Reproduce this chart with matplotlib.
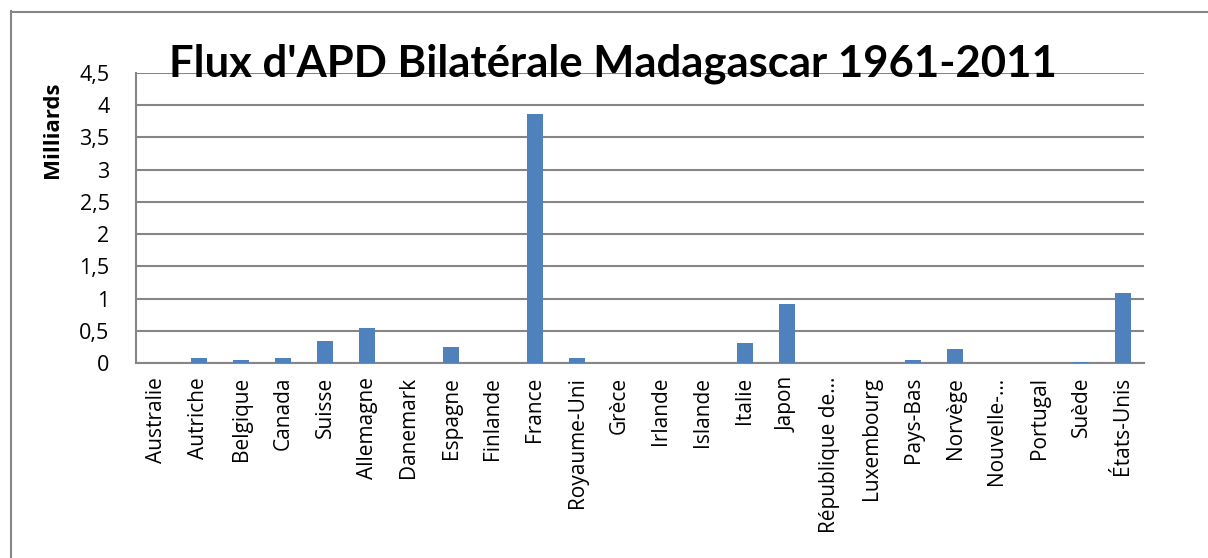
import matplotlib
matplotlib.use("Agg")
import matplotlib.pyplot as plt
from matplotlib.lines import Line2D

pays = ["Australie", "Autriche", "Belgique", "Canada", "Suisse", "Allemagne",
        "Danemark", "Espagne", "Finlande", "France", "Royaume-Uni", "Grèce",
        "Irlande", "Islande", "Italie", "Japon", "République de…",
        "Luxembourg", "Pays-Bas", "Norvège", "Nouvelle-…", "Portugal",
        "Suède", "États-Unis"]
apd = [0.0, 0.08, 0.05, 0.07, 0.34, 0.55, 0.0, 0.25, 0.0, 3.87, 0.07, 0.0,
       0.0, 0.0, 0.31, 0.91, 0.0, 0.0, 0.04, 0.22, 0.0, 0.0, 0.015, 1.09]
yticks = [0, 0.5, 1, 1.5, 2, 2.5, 3, 3.5, 4, 4.5]
ylabels = ["0", "0,5", "1", "1,5", "2", "2,5", "3", "3,5", "4", "4,5"]

W, H = 1208, 558
fig = plt.figure(figsize=(W / 100, H / 100), dpi=100)
ax = fig.add_axes([136 / W, 1 - 363 / H, (1144 - 136) / W, (363 - 73) / H])

grey = "#868686"
x = range(len(pays))
ax.bar(x, apd, width=0.4, color="#4F81BD", zorder=3)
ax.set_xlim(-0.5, len(pays) - 0.5)
ax.set_ylim(0, 4.5)
ax.set_yticks(yticks)
ax.set_yticklabels(ylabels, family="Open Sans", fontsize=15.5)
ax.set_xticks(list(x))
ax.set_xticklabels(pays, rotation=90, family="Open Sans", fontsize=15)
ax.tick_params(axis="y", length=0, pad=19)
ax.tick_params(axis="x", length=0, pad=10)
ax.grid(axis="y", color=grey, linewidth=1.5, zorder=0)
for s in ["top", "right"]:
    ax.spines[s].set_visible(False)
for s in ["left", "bottom"]:
    ax.spines[s].set_color(grey)
    ax.spines[s].set_linewidth(1.5)

fig.text(53 / W, 1 - 130 / H, "Milliards", rotation=90, ha="center", va="center",
         fontsize=16, fontweight="bold", family="Open Sans")

fig.text(613 / W, 1 - 77 / H, "Flux d'APD Bilatérale Madagascar 1961-2011",
         ha="center", va="baseline", fontsize=31.4, fontweight="bold", family="Lato")

# outer chart border
fig.add_artist(Line2D([10.5 / W, 10.5 / W], [0, 1 - 11 / H], color=grey, lw=1.5))
fig.add_artist(Line2D([10.5 / W, 1], [1 - 11.5 / H, 1 - 11.5 / H], color=grey, lw=1.5))

fig.savefig("out.png", dpi=100)
